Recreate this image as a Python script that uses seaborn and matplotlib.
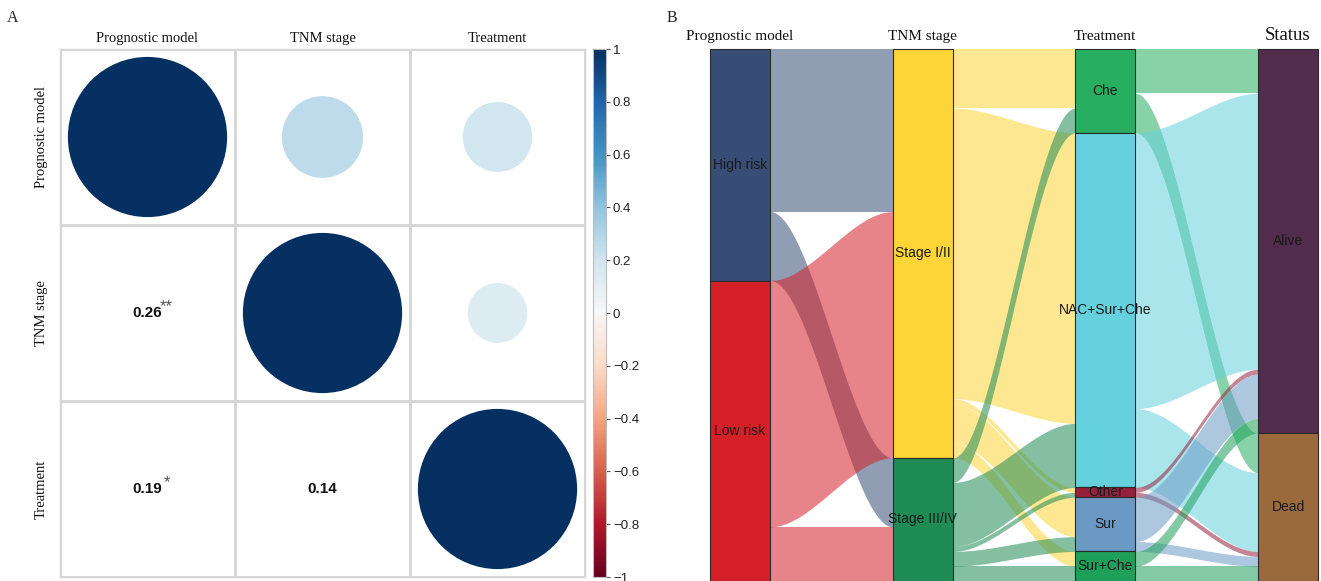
import numpy as np
import matplotlib
matplotlib.use("Agg")
import matplotlib.pyplot as plt
import matplotlib.cm as cm
from matplotlib.colors import ListedColormap, Normalize
from matplotlib.patches import Circle, Rectangle
from matplotlib.transforms import blended_transform_factory
import pandas as pd
import seaborn as sns

# ---- Panel A: correlation between variables ----
variables = ["Prognostic model", "TNM stage", "Treatment"]
corr_pairs = [("TNM stage", "Prognostic model"),
              ("Treatment", "Prognostic model"),
              ("Treatment", "TNM stage")]
corr_values = [0.26, 0.19, 0.14]
corr_stars = ["**", "*", ""]

# ---- Panel B: patient flow (counts) ----
risk_groups = ["High risk", "Low risk"]
stages = ["Stage I/II", "Stage III/IV"]
treatments = ["Che", "NAC+Sur+Che", "Other", "Sur", "Sur+Che"]
statuses = ["Alive", "Dead"]
risk_to_stage = [[33, 14],
                 [50, 11]]
stage_to_treatment = [[12, 59, 1, 8, 3],
                      [5, 13, 1, 3, 3]]
treatment_to_status = [[9, 8],
                       [56, 16],
                       [1, 1],
                       [9, 2],
                       [3, 3]]
axis_titles = ["Prognostic model", "TNM stage", "Treatment", "Status"]

risk_colors = ["#384d75", "#d52028"]
stage_colors = ["#fdd538", "#1f8c55"]
treatment_colors = ["#27ae60", "#66d1de", "#96213c", "#6a99c4", "#1ea05a"]
status_colors = ["#522c4c", "#9b6a3c"]

SERIF = "Liberation Serif"
SANS = "Liberation Sans"

sns.set_theme(style="white")
plt.rcParams["font.family"] = [SANS, "DejaVu Sans"]

W, H = 1321, 581
fig = plt.figure(figsize=(W / 100, H / 100), dpi=100)
fig.patch.set_facecolor("white")

# ================= Panel A =================
n = len(variables)
corr = np.eye(n)
for (a, b), v in zip(corr_pairs, corr_values):
    i, j = variables.index(a), variables.index(b)
    corr[i, j] = corr[j, i] = v
corr_df = pd.DataFrame(corr, index=variables, columns=variables)

axA = fig.add_axes([60 / W, 1 - 577 / H, 525 / W, 528 / H])
cax = fig.add_axes([593 / W, 1 - 577 / H, 13 / W, 528 / H])

sns.heatmap(corr_df, ax=axA, cmap=ListedColormap(["white"]), cbar=False,
            linewidths=1, linecolor="#d6d6d6")
for sp in axA.spines.values():
    sp.set_visible(True)
    sp.set_color("#d6d6d6")
    sp.set_linewidth(1)

cmap = plt.get_cmap("RdBu")
norm = Normalize(-1, 1)

# circles on and above the diagonal, area proportional to |r|
for i in range(n):
    for j in range(i, n):
        r = corr[i, j]
        axA.add_patch(Circle((j + 0.5, i + 0.5), 0.455 * np.sqrt(abs(r)),
                             facecolor=cmap(norm(r)), edgecolor="none", zorder=3))

# coefficients below the diagonal
star_map = {}
for (a, b), s in zip(corr_pairs, corr_stars):
    star_map[(variables.index(a), variables.index(b))] = s
for i in range(n):
    for j in range(i):
        r = corr[i, j]
        axA.text(j + 0.5, i + 0.5, f"{r:.2f}", ha="center", va="center",
                 fontsize=11, fontweight="bold", family=SANS, color="#111111")
        s = star_map.get((i, j), "")
        if s:
            axA.annotate(s, (j + 0.5, i + 0.5), xytext=(13.7, 4.5),
                         textcoords="offset points", ha="center", va="center",
                         fontsize=12, color="#555555", family=SANS)

axA.xaxis.tick_top()
axA.set_xticklabels(variables, rotation=0, family=SERIF, fontsize=10.5, color="#111111")
axA.set_yticklabels(variables, rotation=90, va="center", family=SERIF,
                    fontsize=10.5, color="#111111")
axA.tick_params(axis="x", length=0, pad=3)
axA.tick_params(axis="y", length=0, pad=9)
axA.set_xlabel("")
axA.set_ylabel("")

cb = fig.colorbar(cm.ScalarMappable(norm=norm, cmap=cmap), cax=cax)
ticks = np.round(np.linspace(-1, 1, 11), 1)
cb.set_ticks(ticks)
cb.set_ticklabels([("0" if t == 0 else f"{t:g}").replace("-", "\u2212") for t in ticks])
cb.outline.set_edgecolor("#bbbbbb")
cb.outline.set_linewidth(0.8)
cax.tick_params(length=3, width=0.8, color="#555555", labelsize=9.5,
                labelcolor="#222222", pad=2)

fig.text(7 / W, 1 - 22 / H, "A", family=SERIF, fontsize=11.5, va="baseline")

# ================= Panel B =================
node_w = 60 / 182.67
axB = fig.add_axes([710 / W, 0, 608 / W, 532 / H])
axB.axis("off")

columns = [risk_groups, stages, treatments, statuses]
col_colors = [risk_colors, stage_colors, treatment_colors, status_colors]
links = [np.array(risk_to_stage), np.array(stage_to_treatment),
         np.array(treatment_to_status)]

# node sizes from the flows
sizes = [links[0].sum(axis=1)]
for m in links:
    sizes.append(m.sum(axis=0))
N = sizes[0].sum()
tops = [np.concatenate([[0], np.cumsum(s)[:-1]]) for s in sizes]

axB.set_xlim(0, 3 + node_w)
axB.set_ylim(N, 0)

t = np.linspace(0, 1, 120)
ease = 3 * t ** 2 - 2 * t ** 3

for c, m in enumerate(links):
    out_off = tops[c].astype(float).copy()
    in_start = tops[c + 1].astype(float).copy()
    # incoming offsets: ordered by source within each target node
    in_off = np.zeros_like(m, dtype=float)
    for j in range(m.shape[1]):
        acc = in_start[j]
        for i in range(m.shape[0]):
            in_off[i, j] = acc
            acc += m[i, j]
    x0, x1 = c + node_w, c + 1
    xs = x0 + (x1 - x0) * t
    for i in range(m.shape[0]):
        for j in range(m.shape[1]):
            v = m[i, j]
            if v == 0:
                continue
            y0a, y0b = out_off[i], out_off[i] + v
            y1a, y1b = in_off[i, j], in_off[i, j] + v
            out_off[i] += v
            top = y0a + (y1a - y0a) * ease
            bot = y0b + (y1b - y0b) * ease
            axB.fill_between(xs, top, bot, color=col_colors[c][i], alpha=0.55,
                             linewidth=0, zorder=1)

for c, names in enumerate(columns):
    for k, name in enumerate(names):
        y0, h = tops[c][k], sizes[c][k]
        axB.add_patch(Rectangle((c, y0), node_w, h, facecolor=col_colors[c][k],
                                edgecolor="#2a2a2a", linewidth=0.8, zorder=3,
                                clip_on=False))
        axB.text(c + node_w / 2, y0 + h / 2, name, ha="center", va="center",
                 fontsize=10, family=SANS, color="#1a1a1a", zorder=4)

trB = blended_transform_factory(axB.transData, fig.transFigure)
for c, title in enumerate(axis_titles):
    axB.text(c + node_w / 2, 1 - 40 / H, title, transform=trB, ha="center",
             va="baseline", family=SERIF,
             fontsize=13.5 if c == 3 else 11, color="#111111")

fig.text(667 / W, 1 - 22 / H, "B", family=SERIF, fontsize=11.5, va="baseline")

fig.savefig("out.png", dpi=100, facecolor="white")
